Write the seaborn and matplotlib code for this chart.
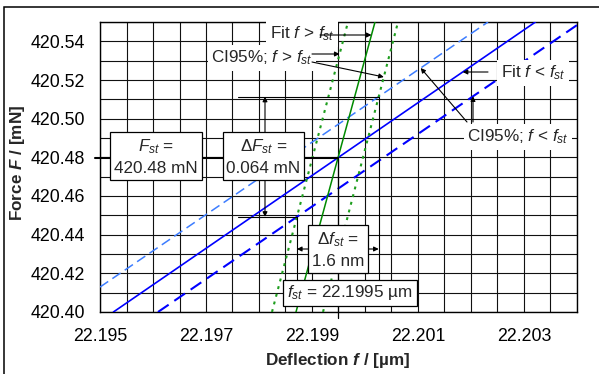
import numpy as np
import pandas as pd
import matplotlib
matplotlib.use("Agg")
import matplotlib.pyplot as plt
import seaborn as sns
from matplotlib.patches import Rectangle

# ---------------- data ----------------
fit_lo_x = [22.195253, 22.203216]      # Fit f < f_st  (blue solid)
fit_lo_y = [420.40, 420.55]
ci_lo_up_x = [22.195000, 22.202321]    # CI95% f < f_st, upper (light blue dashed)
ci_lo_up_y = [420.4129, 420.55]
ci_lo_dn_x = [22.196094, 22.204000]    # CI95% f < f_st, lower (blue dashed)
ci_lo_dn_y = [420.40, 420.5484]
fit_hi_x = [22.198698, 22.200189]      # Fit f > f_st (green solid)
fit_hi_y = [420.40, 420.55]
ci_hi_l_x = [22.198245, 22.199679]     # CI95% f > f_st, left (green dotted)
ci_hi_l_y = [420.40, 420.55]
ci_hi_r_x = [22.199208, 22.200623]     # CI95% f > f_st, right (green dotted)
ci_hi_r_y = [420.40, 420.55]

x_ticks = [22.195, 22.197, 22.199, 22.201, 22.203]
y_ticks = [420.40, 420.42, 420.44, 420.46, 420.48, 420.50, 420.52, 420.54]
x_tick_labels = ["22.195", "22.197", "22.199", "22.201", "22.203"]
y_tick_labels = ["420.40", "420.42", "420.44", "420.46", "420.48", "420.50", "420.52", "420.54"]

F_st_text = "420.48 mN"
dF_st_text = "0.064 mN"
df_st_text = "1.6 nm"
f_st_text = "22.1995 µm"

# ---------------- style ----------------
sns.set_theme(style="white")
plt.rcParams["font.family"] = ["Liberation Sans", "DejaVu Sans"]
plt.rcParams["mathtext.fontset"] = "custom"
plt.rcParams["mathtext.rm"] = "Liberation Sans"
plt.rcParams["mathtext.it"] = "Liberation Sans:italic"
plt.rcParams["mathtext.bf"] = "Liberation Sans:bold"
try:
    plt.rcParams["mathtext.bfit"] = "Liberation Sans:bold:italic"
    HAS_BFIT = True
except Exception:
    HAS_BFIT = False

FS = 12.3
FS_TICK = 12.8
FS_LAB = 12.3
XMIN, XMAX = 22.195, 22.204
YMIN, YMAX = 420.40, 420.55

fig = plt.figure(figsize=(5.99, 3.74), dpi=100)
fig.patch.set_facecolor("white")
ax = fig.add_axes([100 / 599, 1 - 312 / 374, 477 / 599, 290 / 374])

# outer frame
fig.patches.append(Rectangle((4 / 599, -0.02), 1.0, 1 - 7 / 374 + 0.02, transform=fig.transFigure,
                             fill=False, ec="black", lw=1.1, clip_on=False))

# ---------------- lines ----------------
series = [
    ("fit_lo", fit_lo_x, fit_lo_y, "#0000FF", "-", 1.2),
    ("ci_lo_up", ci_lo_up_x, ci_lo_up_y, "#3D7DFF", (0, (6.5, 3.3)), 1.1),
    ("ci_lo_dn", ci_lo_dn_x, ci_lo_dn_y, "#0000FF", (0, (6.2, 3.3)), 1.5),
    ("fit_hi", fit_hi_x, fit_hi_y, "#008A00", "-", 1.1),
    ("ci_hi_l", ci_hi_l_x, ci_hi_l_y, "#1E9E1E", (0, (1.4, 2.4)), 1.5),
    ("ci_hi_r", ci_hi_r_x, ci_hi_r_y, "#1E9E1E", (0, (1.4, 2.4)), 1.5),
]
frames = []
for name, xs, ys, *_ in series:
    frames.append(pd.DataFrame({"x": xs, "y": ys, "series": name}))
df = pd.concat(frames, ignore_index=True)

for name, xs, ys, col, ls, lw in series:
    sns.lineplot(data=df[df["series"] == name], x="x", y="y", ax=ax, color=col,
                 linestyle=ls, lw=lw, sort=False, estimator=None, legend=False, zorder=3)

ax.set_xlim(XMIN, XMAX)
ax.set_ylim(YMIN, YMAX)
ax.set_xticks(x_ticks)
ax.set_xticklabels(x_tick_labels)
ax.set_yticks(y_ticks)
ax.set_yticklabels(y_tick_labels)
ax.set_xticks(np.arange(XMIN, XMAX + 1e-9, 0.0005), minor=True)
ax.set_yticks(np.arange(YMIN, YMAX + 1e-9, 0.01), minor=True)
ax.grid(which="both", color="#111111", lw=0.8, zorder=0)
ax.set_axisbelow(True)
ax.tick_params(which="both", length=0, labelsize=FS_TICK, colors="black")
ax.tick_params(axis="x", pad=11.5)
ax.tick_params(axis="y", pad=10.5)
for s in ax.spines.values():
    s.set_color("black")
    s.set_linewidth(1.0)
ax.set_xlabel("")
ax.set_ylabel("")


# ---------------- helpers ----------------
def line_of(xs, ys):
    m = (ys[1] - ys[0]) / (xs[1] - xs[0])
    return m, ys[0] - m * xs[0]


def intersect(a, b):
    m1, c1 = line_of(*a)
    m2, c2 = line_of(*b)
    xi = (c2 - c1) / (m1 - m2)
    return xi, m1 * xi + c1


def x_at(xs, ys, y):
    m, c = line_of(xs, ys)
    return (y - c) / m


def y_at(xs, ys, x):
    m, c = line_of(xs, ys)
    return m * x + c


def px(xp):
    return XMIN + (xp - 100) / 477 * (XMAX - XMIN)


def py(yp):
    return YMIN + (312 - yp) / 290 * (YMAX - YMIN)


f_st, F_st = intersect((fit_lo_x, fit_lo_y), (fit_hi_x, fit_hi_y))
f_right, F_upper = intersect((ci_lo_up_x, ci_lo_up_y), (ci_hi_r_x, ci_hi_r_y))
f_left, F_lower = intersect((ci_lo_dn_x, ci_lo_dn_y), (ci_hi_l_x, ci_hi_l_y))

k = dict(color="black", zorder=4, clip_on=False)
# F_st and f_st construction lines
ax.plot([px(95), f_st], [F_st, F_st], lw=1.5, **k)
ax.plot([f_st, f_st], [py(318), F_st], lw=0.9, **k)
# Delta F extension lines
ax.plot([px(238), f_right], [F_upper, F_upper], lw=0.8, **k)
ax.plot([px(238), f_left], [F_lower, F_lower], lw=0.8, **k)
# Delta f extension lines
ax.plot([f_left, f_left], [F_lower, py(283)], lw=0.8, **k)
ax.plot([f_right, f_right], [F_upper, py(283)], lw=0.8, **k)

arr = dict(arrowstyle="-|>", color="black", lw=0.8, mutation_scale=7, shrinkA=0, shrinkB=0)
arr2 = dict(arrowstyle="<|-|>", color="black", lw=0.8, mutation_scale=7, shrinkA=0, shrinkB=0)
ax.annotate("", xy=(px(265), F_upper), xytext=(px(265), F_lower), arrowprops=arr2, zorder=5)
ax.annotate("", xy=(f_right, py(249)), xytext=(f_left, py(249)), arrowprops=arr2, zorder=5)

# ---------------- boxed labels ----------------
box = dict(boxstyle="square,pad=0.22", fc="white", ec="black", lw=0.9)
wbox = dict(boxstyle="square,pad=0.2", fc="white", ec="none")
tk = dict(ha="center", va="center", fontsize=FS, zorder=6, linespacing=1.42)

ax.text(px(156), py(157), "$F_{st}$ =\n" + F_st_text, bbox=box, **tk)
ax.text(px(263.5), py(157), "Δ$F_{st}$ =\n" + dF_st_text, bbox=box, **tk)
ax.text(px(338), py(250), "Δ$f_{st}$ =\n" + df_st_text, bbox=box, **tk)
ax.text(px(350), py(293), "$f_{st}$ = " + f_st_text, bbox=box, **tk)

ax.text(px(302), py(34), "Fit $f$ > $f_{st}$", bbox=wbox, **tk)
ax.text(px(262), py(58), "CI95%; $f$ > $f_{st}$", bbox=wbox, **tk)
ax.text(px(533), py(73), "Fit $f$ < $f_{st}$", bbox=wbox, **tk)
ax.text(px(518), py(137), "CI95%; $f$ < $f_{st}$", bbox=wbox, **tk)

# arrows from labels to lines
yA = py(35)
ax.annotate("", xy=(x_at(fit_hi_x, fit_hi_y, yA), yA), xytext=(px(320), yA), arrowprops=arr, zorder=7)
yB = py(54)
ax.annotate("", xy=(x_at(ci_hi_l_x, ci_hi_l_y, yB), yB), xytext=(px(312), yB), arrowprops=arr, zorder=7)
yC = py(77)
ax.annotate("", xy=(x_at(ci_hi_r_x, ci_hi_r_y, yC), yC), xytext=(px(312), py(62)), arrowprops=arr, zorder=7)
yD = py(72)
ax.annotate("", xy=(x_at(fit_lo_x, fit_lo_y, yD), yD), xytext=(px(488), yD), arrowprops=arr, zorder=7)
yE = py(68)
ax.annotate("", xy=(x_at(ci_lo_up_x, ci_lo_up_y, yE), yE), xytext=(px(467), py(122)), arrowprops=arr, zorder=7)
xF = px(473)
ax.annotate("", xy=(xF, y_at(ci_lo_dn_x, ci_lo_dn_y, xF)), xytext=(xF, py(122)), arrowprops=arr, zorder=7)

# ---------------- axis titles ----------------
if HAS_BFIT:
    ylab = r"Force $\mathbfit{F}$ / [mN]"
    xlab = r"Deflection $\mathbfit{f}$ / [µm]"
else:
    ylab = r"Force $F$ / [mN]"
    xlab = r"Deflection $f$ / [µm]"
fig.text(18 / 599, 1 - 163 / 374, ylab, rotation=90, ha="center", va="center",
         fontsize=FS_LAB, fontweight="bold")
fig.text(338 / 599, 1 - 361 / 374, xlab, ha="center", va="center",
         fontsize=FS_LAB, fontweight="bold")

fig.savefig("out.png", dpi=100, facecolor="white")
